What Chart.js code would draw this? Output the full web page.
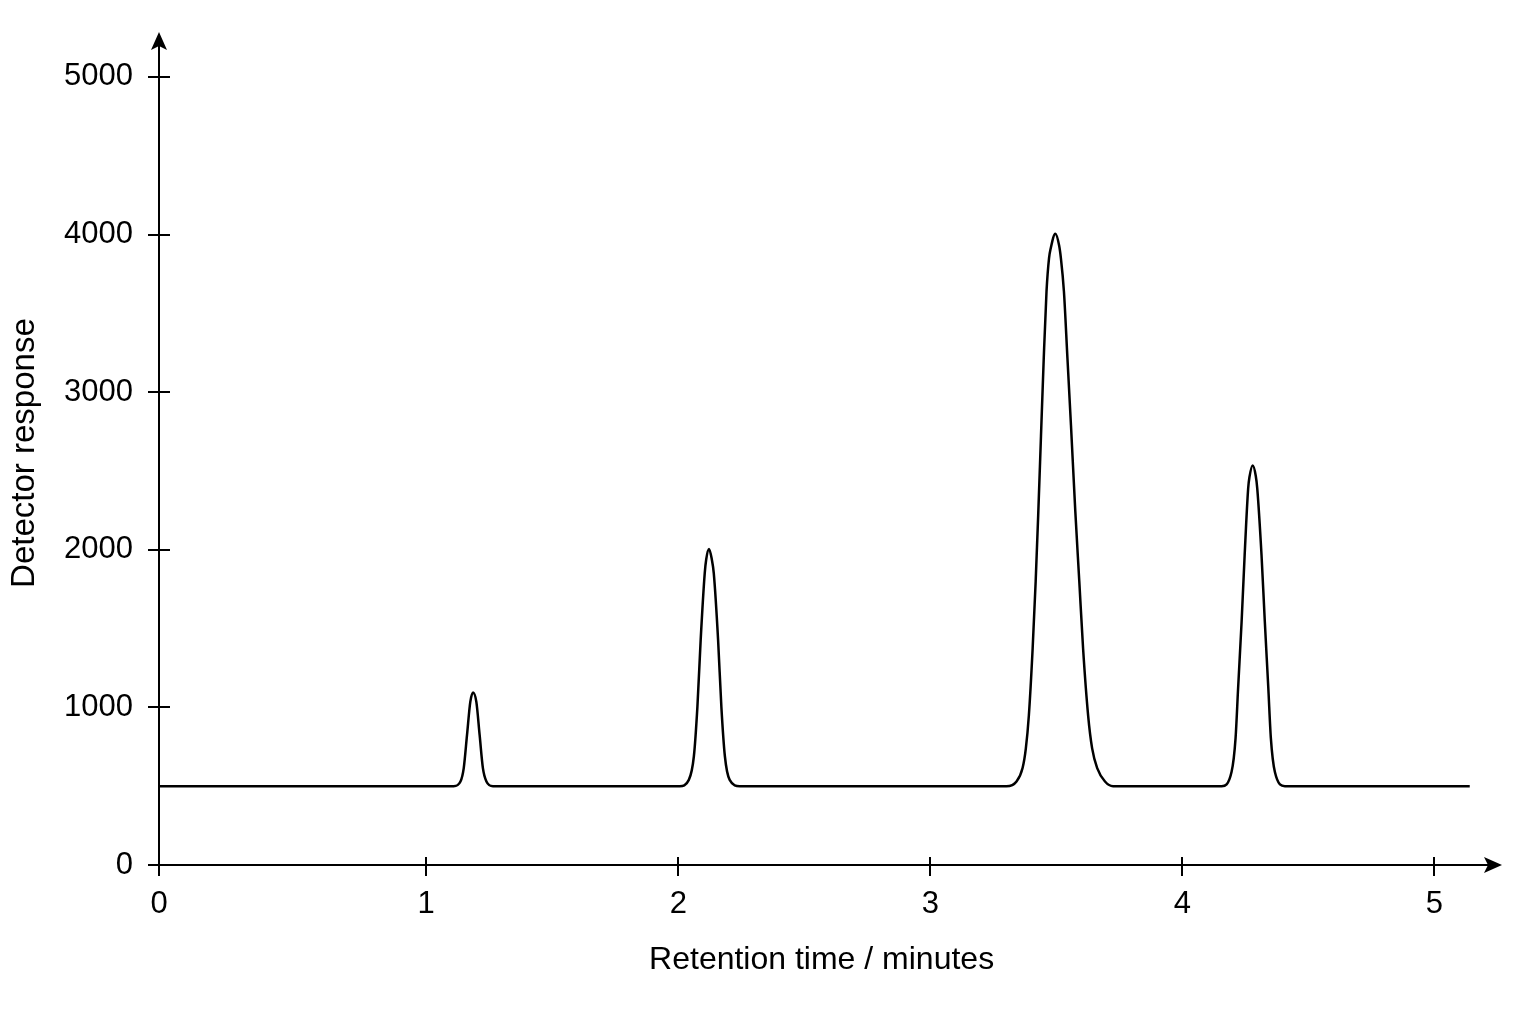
<!DOCTYPE html>
<html>
<head>
<meta charset="utf-8">
<title>Chromatogram</title>
<script src="https://cdn.jsdelivr.net/npm/chart.js@4.4.0/dist/chart.umd.min.js"></script>
<style>
  html, body { margin: 0; padding: 0; background: #fff; }
  #wrap { width: 1536px; height: 1024px; }
</style>
</head>
<body>
<div id="wrap"><canvas id="chartCanvas"></canvas></div>
<script>
// trace; it starts at the axis origin and ends at ~5.14 min
var retentionTimes = [
  -0.06,
  1.109, 1.136, 1.149, 1.162, 1.175, 1.186, 1.199, 1.212, 1.225, 1.239, 1.265,
  2.006, 2.042, 2.062, 2.076, 2.089, 2.105, 2.111, 2.122, 2.133, 2.141, 2.158, 2.171, 2.185, 2.204, 2.244,
  3.302, 3.342, 3.366, 3.379, 3.391, 3.406, 3.418, 3.428, 3.439, 3.450, 3.461, 3.471, 3.478, 3.496,
  3.511, 3.518, 3.530, 3.544, 3.558, 3.575, 3.591, 3.606, 3.626, 3.642, 3.662, 3.693, 3.725,
  4.156, 4.195, 4.211, 4.221, 4.235, 4.247, 4.261, 4.266, 4.279, 4.291, 4.297, 4.314, 4.327, 4.341, 4.351, 4.367, 4.407,
  5.14
];
var detectorResponse = [
  500,
  500, 530, 615, 825, 1035, 1095, 1035, 825, 615, 530, 500,
  500, 540, 690, 1005, 1430, 1850, 1940, 2005, 1940, 1850, 1430, 1005, 690, 540, 500,
  500, 530, 615, 740, 950, 1375, 1800, 2220, 2720, 3215, 3640, 3850, 3915, 4005,
  3930, 3850, 3640, 3215, 2790, 2250, 1800, 1375, 950, 740, 615, 530, 500,
  500, 590, 805, 1120, 1545, 1965, 2390, 2460, 2535, 2470, 2390, 1965, 1545, 1120, 805, 590, 500,
  500
];

var xAxisStart = -0.06;
var xAxisEnd = 5.268;
var xTickValues = [xAxisStart, 1, 2, 3, 4, 5];
var xTickLabels = ["0", "1", "2", "3", "4", "5"];

var yAxisEnd = 5285;
var yTickValues = [0, 1000, 2000, 3000, 4000, 5000];
var yTickLabels = ["0", "1000", "2000", "3000", "4000", "5000"];

Chart.defaults.font.family = '"Liberation Sans", Arial, sans-serif';
Chart.defaults.color = "#000";

function arrowHead(ctx, tx, ty, dx, dy) {
  var len = 18, half = 8, notch = 4;
  var px = -dy, py = dx;
  ctx.beginPath();
  ctx.moveTo(tx, ty);
  ctx.lineTo(tx - dx * len + px * half, ty - dy * len + py * half);
  ctx.lineTo(tx - dx * (len - notch), ty - dy * (len - notch));
  ctx.lineTo(tx - dx * len - px * half, ty - dy * len - py * half);
  ctx.closePath();
  ctx.fill();
}

// axes with crossing ticks and arrow ends
var axisDecor = {
  id: "axisDecor",
  afterDraw: function (chart) {
    var ctx = chart.ctx;
    var area = chart.chartArea;
    var xs = chart.scales.x;
    var ys = chart.scales.y;
    var x0 = area.left;
    var y0 = area.bottom;

    ctx.save();
    ctx.strokeStyle = "#000";
    ctx.fillStyle = "#000";
    ctx.lineWidth = 2;
    ctx.beginPath();
    ctx.moveTo(x0 - 11, y0);
    ctx.lineTo(area.right - 6, y0);
    ctx.moveTo(x0, y0 + 11);
    ctx.lineTo(x0, area.top + 6);

    yTickValues.forEach(function (v) {
      if (v <= 0) return;
      var y = Math.round(ys.getPixelForValue(v));
      ctx.moveTo(x0 - 11, y);
      ctx.lineTo(x0 + 11, y);
    });
    xTickValues.forEach(function (v) {
      if (v <= 0) return;
      var x = Math.round(xs.getPixelForValue(v));
      ctx.moveTo(x, y0 - 8);
      ctx.lineTo(x, y0 + 11);
    });
    ctx.stroke();

    arrowHead(ctx, area.right, y0, 1, 0);
    arrowHead(ctx, x0, area.top, 0, -1);
    ctx.restore();
  }
};

var points = retentionTimes.map(function (t, i) {
  return { x: t, y: detectorResponse[i] };
});

var ctx = document.getElementById("chartCanvas");
var chromatogram = new Chart(ctx, {
  type: "line",
  data: {
    datasets: [
      {
        data: points,
        borderColor: "#000",
        borderWidth: 2.5,
        pointRadius: 0,
        fill: false,
        cubicInterpolationMode: "monotone"
      }
    ]
  },
  options: {
    responsive: true,
    maintainAspectRatio: false,
    animation: false,
    layout: {
      padding: { top: 32, right: 34, left: 0, bottom: 0 }
    },
    plugins: {
      legend: { display: false },
      tooltip: { enabled: false }
    },
    scales: {
      x: {
        type: "linear",
        min: xAxisStart,
        max: xAxisEnd,
        grid: { display: false, drawTicks: false },
        border: { display: false },
        afterBuildTicks: function (scale) {
          scale.ticks = xTickValues.map(function (v) { return { value: v }; });
        },
        afterFit: function (scale) {
          scale.height = 159;
          scale.paddingLeft = 0;
          scale.paddingRight = 0;
        },
        ticks: {
          autoSkip: false,
          maxRotation: 0,
          padding: 21,
          font: { size: 31 },
          callback: function (value, index) {
            return xTickLabels[index];
          }
        },
        title: {
          display: true,
          // trailing spaces nudge the centred title a little left, as in the original
          text: "Retention time / minutes  ",
          font: { size: 32 },
          padding: { top: 0, bottom: 45 }
        }
      },
      y: {
        type: "linear",
        min: 0,
        max: yAxisEnd,
        grid: { display: false, drawTicks: false },
        border: { display: false },
        afterBuildTicks: function (scale) {
          scale.ticks = yTickValues.map(function (v) { return { value: v }; });
        },
        afterFit: function (scale) {
          scale.width = 159;
          scale.paddingTop = 0;
          scale.paddingBottom = 0;
        },
        ticks: {
          padding: 26,
          font: { size: 31 },
          callback: function (value, index) {
            return yTickLabels[index];
          }
        },
        title: {
          display: true,
          text: "Detector response ",
          font: { size: 33 },
          padding: { top: 5, bottom: 0 }
        }
      }
    }
  },
  plugins: [axisDecor]
});
</script>
</body>
</html>
